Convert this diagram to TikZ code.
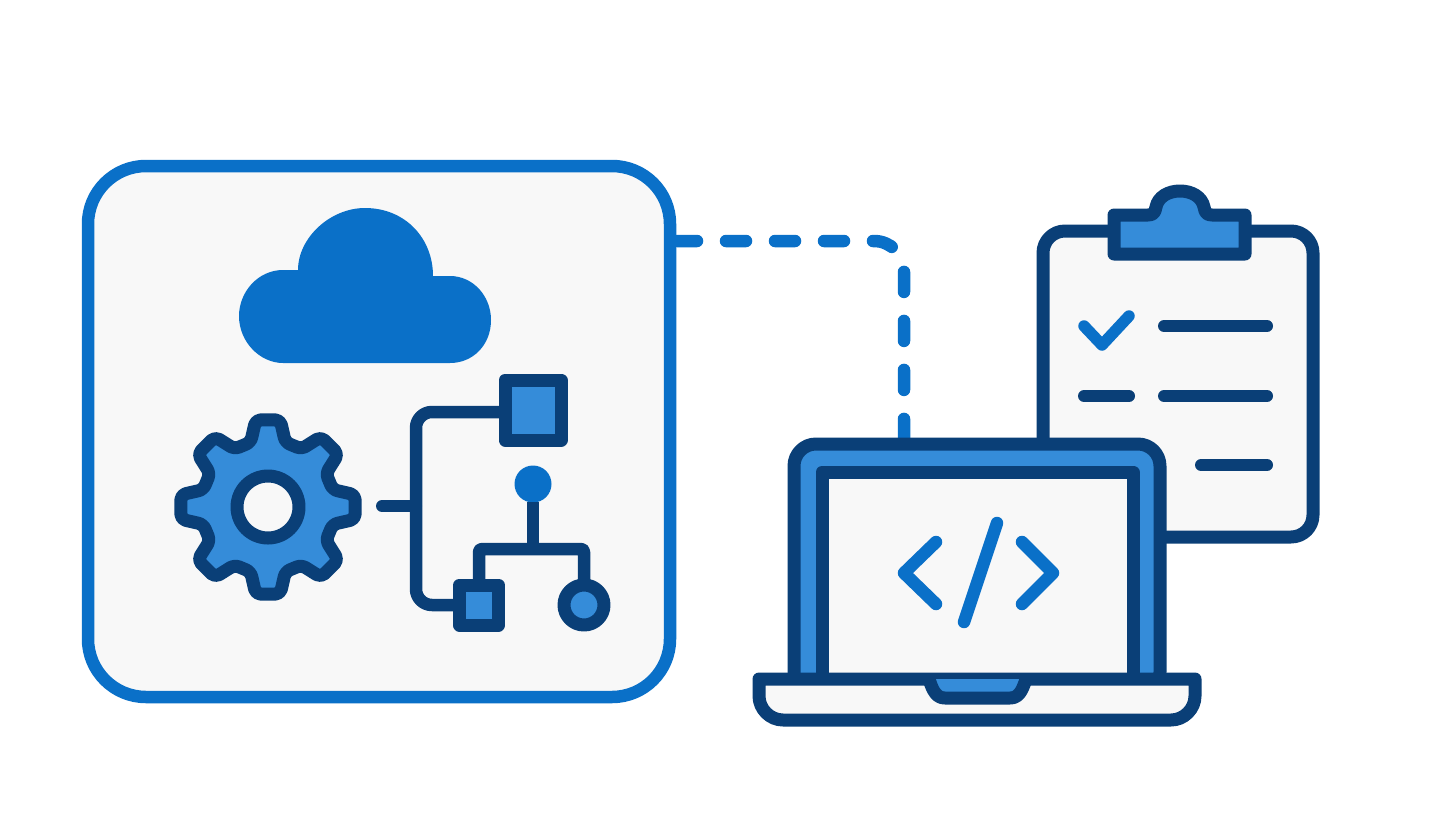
\documentclass[tikz,border=0pt]{standalone}
\usepackage{tikz}
\definecolor{navy}{HTML}{0A3F77}
\definecolor{midblue}{HTML}{358CD9}
\definecolor{brightblue}{HTML}{0A70C8}
\definecolor{paper}{HTML}{F8F8F8}
\begin{document}
\begin{tikzpicture}[x=1pt,y=-1pt,line join=round,
	outline/.style={draw=navy,line width=13pt},
	wire/.style={draw=navy,line width=12.5pt},
	blueline/.style={draw=brightblue,line width=12.5pt,line cap=round},
	navyline/.style={draw=navy,line width=12pt,line cap=round},
	netbox/.style={outline,fill=midblue,inner sep=0pt,outer sep=0pt}]
	\useasboundingbox (0,0) rectangle (1441,828);
	\fill[white] (0,0) rectangle (1441,828);

	\coordinate (linkstart) at (677,241);
	\coordinate (linkend) at (904,440);
	\node[draw=brightblue,fill=paper,line width=12.5pt,rounded corners=58pt,inner sep=0pt,minimum width=582pt,minimum height=531pt] (panel) at (379,431.5) {};
	\draw[blueline,rounded corners=30pt,dash pattern=on 20pt off 29pt] (linkstart) -| (linkend);

	\fill[brightblue] (283,363) -- (450,363) .. controls (473,363) and (491,345) .. (491,320) .. controls (491,296) and (473,276) .. (450,276) -- (433,276) .. controls (433,238) and (405,208) .. (365,208) .. controls (330,208) and (298,238) .. (298,270) -- (283,270) .. controls (258,270) and (239,292) .. (239,316) .. controls (239,342) and (260,363) .. (283,363) -- cycle;

	\begin{scope}[shift={(268,507)}]
		\draw[outline,fill=midblue,rounded corners=5pt] (-15:67) \foreach \a in {0,45,...,270} {-- ({\a-8}:88) -- ({\a+8}:88) -- ({\a+15}:67) -- ({\a+30}:67)} -- (307:88) -- (323:88) -- (330:67) -- cycle;
	\end{scope}
	\node[outline,fill=paper,circle,inner sep=0pt,minimum size=62pt] (gearhole) at (268,507) {};

	\node[netbox,minimum width=56pt,minimum height=60pt] (sqa) at (533,410) {};
	\node[netbox,minimum width=39pt,minimum height=40pt] (sqb) at (479,605) {};
	\node[netbox,circle,minimum size=40pt] (circ) at (584,605) {};
	\node[fill=brightblue,circle,inner sep=0pt,minimum size=37pt] (dot) at (533,484) {};
	\coordinate (spine) at (416,506);
	\coordinate (stub) at (382,506);
	\coordinate (bar) at (533,549);
	\draw[wire,rounded corners=16pt] ([yshift=-2pt]sqa.west) -| (spine) |- (sqb.west);
	\draw[navyline] (stub) -- (spine);
	\draw[wire] ([yshift=1pt]dot.south) -- (bar);
	\draw[wire,rounded corners=3pt] (sqb.north) |- (bar) -| (circ.north);

	\node[outline,fill=paper,rounded corners=22pt,inner sep=0pt,minimum width=270pt,minimum height=306pt] (board) at (1178,384) {};
	\draw[outline,fill=midblue] (1114,215) -- (1148,215) .. controls (1153,215) and (1155,213) .. (1156,207) .. controls (1158,197) and (1168,191) .. (1180,191) .. controls (1192,191) and (1202,197) .. (1204,207) .. controls (1205,213) and (1207,215) .. (1212,215) -- (1245,215) -- (1245,254) -- (1114,254) -- cycle;
	\draw[blueline,line width=11.5pt] (1084,326) -- (1102,345) -- (1129,316);
	\draw[navyline] (1164,326) -- (1267,326);
	\draw[navyline] (1084,396) -- (1129,396);
	\draw[navyline] (1164,396) -- (1267,396);
	\draw[navyline] (1201,465) -- (1267,465);

	\node[outline,fill=midblue,rounded corners=22pt,inner sep=0pt,minimum width=366pt,minimum height=250pt] (lid) at (977,569) {};
	\node[outline,fill=paper,inner sep=0pt,minimum width=311pt,minimum height=220pt] (screen) at (977.5,582) {};
	\draw[outline,fill=paper] (759,679) -- (1195,679) -- (1195,696) .. controls (1195,709) and (1184,720) .. (1171,720) -- (783,720) .. controls (770,720) and (759,709) .. (759,696) -- cycle;
	\draw[outline,fill=midblue] (929,679) .. controls (933,692) and (937,698) .. (945,698) -- (1010,698) .. controls (1018,698) and (1022,692) .. (1026,679);
	\draw[blueline] (936,542) -- (904,573) -- (936,604);
	\draw[blueline] (997,523) -- (964,622);
	\draw[blueline] (1022,542) -- (1053,573) -- (1022,604);
\end{tikzpicture}
\end{document}
